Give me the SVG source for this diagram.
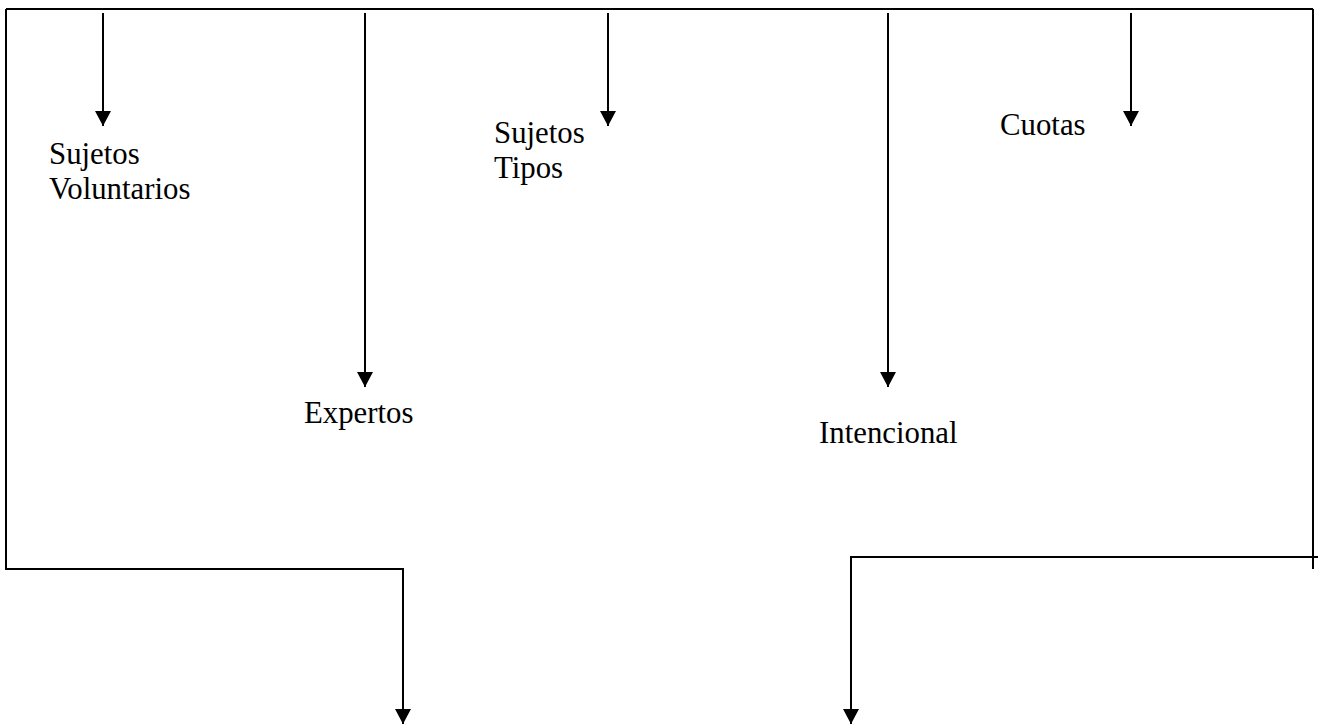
<svg xmlns="http://www.w3.org/2000/svg" width="1322" height="725" viewBox="0 0 1322 725">
  <style>
    .ln { stroke: #000; stroke-width: 2; fill: none; }
    .lbl { font-family: "Liberation Serif", "Times New Roman", serif; font-size: 30.8px; fill: #000; }
  </style>
  <defs>
    <marker id="ah" markerUnits="userSpaceOnUse" markerWidth="15" markerHeight="16" refX="15" refY="8" orient="auto" viewBox="0 0 15 16">
      <path d="M0,0 L15,8 L0,16 z" fill="#000"/>
    </marker>
  </defs>
  <rect width="1322" height="725" fill="#fff"/>
  <g id="connectors">
    <path class="ln" d="M6,9 L1313,9"/>
    <path class="ln" d="M6,9 L6,569 L403,569 L403,724" marker-end="url(#ah)"/>
    <path class="ln" d="M1313,9 L1313,569"/>
    <path class="ln" d="M1318,557 L851,557 L851,724" marker-end="url(#ah)"/>
    <line class="ln" x1="103" y1="13" x2="103" y2="126" marker-end="url(#ah)"/>
    <line class="ln" x1="365" y1="13" x2="365" y2="387" marker-end="url(#ah)"/>
    <line class="ln" x1="608" y1="13" x2="608" y2="126" marker-end="url(#ah)"/>
    <line class="ln" x1="888" y1="13" x2="888" y2="387" marker-end="url(#ah)"/>
    <line class="ln" x1="1131" y1="13" x2="1131" y2="126" marker-end="url(#ah)"/>
  </g>
  <g id="node-voluntarios">
    <text class="lbl" x="49" y="164">Sujetos</text>
    <text class="lbl" x="49" y="199">Voluntarios</text>
  </g>
  <g id="node-expertos">
    <text class="lbl" x="304" y="423">Expertos</text>
  </g>
  <g id="node-tipos">
    <text class="lbl" x="494" y="143">Sujetos</text>
    <text class="lbl" x="494" y="178">Tipos</text>
  </g>
  <g id="node-intencional">
    <text class="lbl" x="819" y="443">Intencional</text>
  </g>
  <g id="node-cuotas">
    <text class="lbl" x="1000" y="135">Cuotas</text>
  </g>
</svg>
